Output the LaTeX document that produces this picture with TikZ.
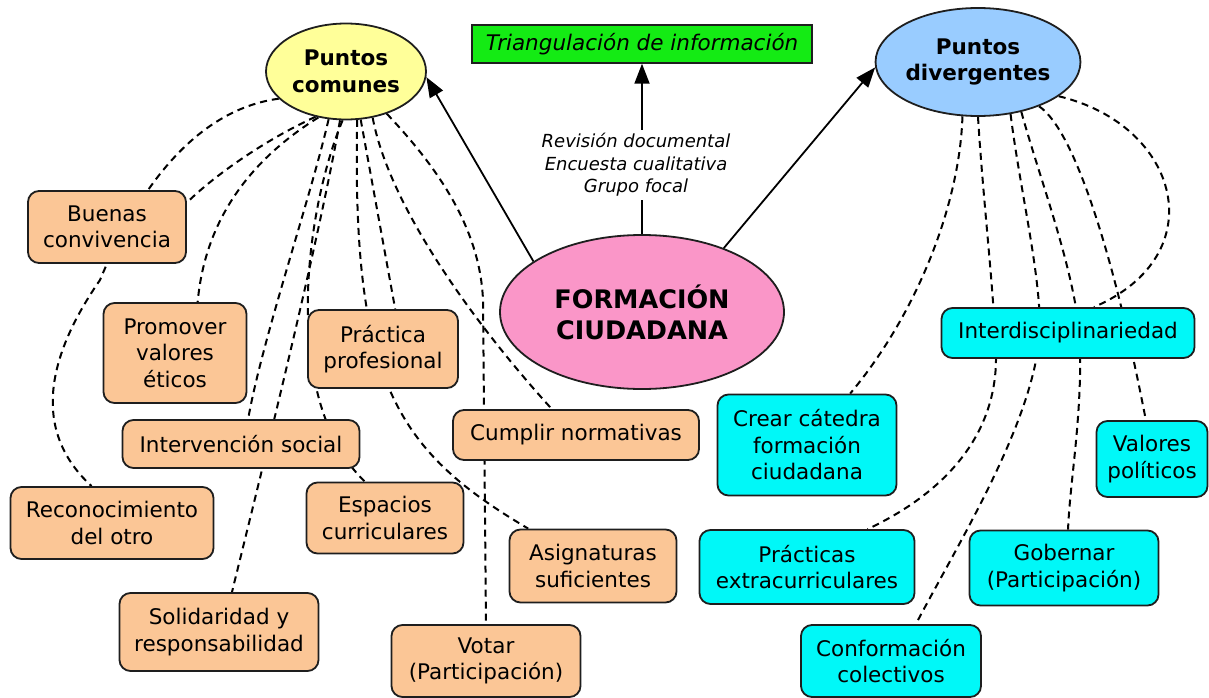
\documentclass[tikz,border=0pt]{standalone}
\usepackage{fontspec}
\setmainfont{DejaVu Sans}
\usetikzlibrary{shapes.geometric,arrows.meta,backgrounds}
\definecolor{edgec}{RGB}{30,30,30}
\definecolor{orangec}{RGB}{251,198,150}
\definecolor{cyanc}{RGB}{0,248,248}
\definecolor{yellowc}{RGB}{255,255,153}
\definecolor{bluec}{RGB}{153,204,255}
\definecolor{pinkc}{RGB}{250,150,200}
\definecolor{greenc}{RGB}{20,235,20}
\begin{document}
\begin{tikzpicture}[x=1pt,y=-1pt,
  every node/.style={align=center, text=black, inner sep=0pt, font=\fontsize{21.5}{26.5}\selectfont},
  ell/.style={ellipse, draw=edgec, line width=1.8pt},
  obox/.style={rectangle, rounded corners=11pt, draw=edgec, line width=1.8pt, fill=orangec},
  cbox/.style={rectangle, rounded corners=11pt, draw=edgec, line width=1.8pt, fill=cyanc},
  dline/.style={line width=2pt, dash pattern=on 7pt off 5pt},
  arr/.style={line width=1.8pt, -{Triangle[length=20pt,width=15pt]}},
  plain/.style={line width=1.8pt}
]
\useasboundingbox (0,0) rectangle (1209,698);

% main concepts
\node[ell, fill=yellowc, minimum width=160, minimum height=96] (comunes) at (346,71.5) {\bfseries Puntos\\\bfseries comunes};
\node[ell, fill=bluec, minimum width=196, minimum height=108] (div) at (978,62) {\bfseries Puntos\\\bfseries divergentes};
\node[ell, fill=pinkc, minimum width=284, minimum height=154, font=\fontsize{25.5}{31}\selectfont] (formacion) at (642,312) {\bfseries FORMACIÓN\\\bfseries CIUDADANA};
\node[rectangle, draw=edgec, line width=1.4pt, fill=greenc, minimum width=340, minimum height=38, font=\fontsize{21.5}{26}\selectfont\itshape] (tri) at (642,44) {Triangulación de información};
\node[font=\fontsize{18}{22.5}\selectfont\itshape, inner sep=3.5pt] (lbl) at (636,165) {Revisión documental\\Encuesta cualitativa\\Grupo focal};

% left (orange) concepts
\node[obox, minimum width=158, minimum height=72] (buenas) at (107,227) {Buenas\\convivencia};
\node[obox, minimum width=143, minimum height=100] (promover) at (175,353) {Promover\\valores\\éticos};
\node[obox, minimum width=150, minimum height=78] (prac) at (383,349) {Práctica\\profesional};
\node[obox, minimum width=237, minimum height=48] (inter) at (241,444) {Intervención social};
\node[obox, minimum width=203, minimum height=72] (reco) at (112,523) {Reconocimiento\\del otro};
\node[obox, minimum width=157, minimum height=71] (esp) at (385,518) {Espacios\\curriculares};
\node[obox, minimum width=246, minimum height=50] (cumplir) at (576,435) {Cumplir normativas};
\node[obox, minimum width=167, minimum height=73] (asig) at (593,566) {Asignaturas\\suficientes};
\node[obox, minimum width=199, minimum height=78] (solid) at (219,632) {Solidaridad y\\responsabilidad};
\node[obox, minimum width=189, minimum height=72] (votar) at (486,661) {Votar\\(Participación)};

% right (cyan) concepts
\node[cbox, minimum width=253, minimum height=50] (interd) at (1068,333) {Interdisciplinariedad};
\node[cbox, minimum width=179, minimum height=101] (crear) at (807,445) {Crear cátedra\\formación\\ciudadana};
\node[cbox, minimum width=111, minimum height=76] (valp) at (1152,459) {Valores\\políticos};
\node[cbox, minimum width=215, minimum height=74] (prax) at (807,567) {Prácticas\\extracurriculares};
\node[cbox, minimum width=189, minimum height=75] (gob) at (1064,568) {Gobernar\\(Participación)};
\node[cbox, minimum width=180, minimum height=72] (conf) at (891,661) {Conformación\\colectivos};

% solid connectors
\draw[arr] (formacion.155) -- (comunes.-4);
\draw[arr] (formacion.38) -- (div.183);
\draw[plain] (formacion.north) -- (formacion.north |- lbl.south);
\draw[arr] (tri.south |- lbl.north) -- (tri.south);

% dashed connectors (behind the boxes)
\begin{scope}[on background layer]
\draw[dline] (comunes.202) .. controls (180,112) and (125,220) .. (100,280) .. controls (55,345) and (25,425) .. (reco.119);
\draw[dline] (comunes.236) .. controls (265,140) and (215,175) .. (buenas.17);
\draw[dline] (comunes.239) .. controls (250,160) and (205,220) .. (promover.66);
\draw[dline] (comunes.250) .. controls (310,200) and (262,340) .. (inter.74);
\draw[dline] (comunes.263) .. controls (318,245) and (262,470) .. (solid.72);
\draw[dline] (comunes.266) .. controls (305,210) and (280,400) .. (esp.119);
\draw[dline] (comunes.287) -- (prac.73);
\draw[dline] (comunes.283) .. controls (352,380) and (395,450) .. (asig.150);
\draw[dline] (comunes.300) .. controls (390,210) and (480,330) .. (cumplir.133);
\draw[dline] (comunes.314) .. controls (440,170) and (480,230) .. (483,300) -- (votar.north);

\draw[dline] (div.254) .. controls (960,200) and (920,310) .. (crear.50);
\draw[dline] (div.270) .. controls (983,200) and (995,300) .. (996,360) .. controls (995,440) and (940,495) .. (prax.32);
\draw[dline] (div.302) .. controls (1020,190) and (1040,270) .. (1040,330) .. controls (1035,420) and (960,540) .. (conf.56);
\draw[dline] (div.311) .. controls (1040,180) and (1075,270) .. (1080,340) .. controls (1082,420) and (1070,480) .. (gob.84);
\draw[dline] (div.324) .. controls (1075,130) and (1115,260) .. (valp.99);
\draw[dline] (div.337) .. controls (1180,125) and (1215,255) .. (interd.45);
\end{scope}
\end{tikzpicture}
\end{document}
